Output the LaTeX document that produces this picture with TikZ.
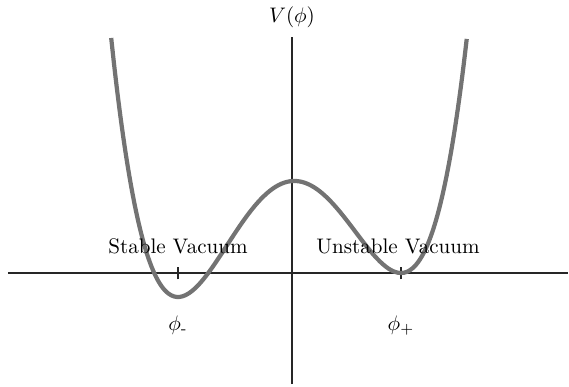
\documentclass[tikz,border=0pt]{standalone}
\usepackage{amsmath,amssymb}
\usepackage{tikz}
\usetikzlibrary{positioning}

\begin{document}
\begin{tikzpicture}[
    x=47.5pt, y=47.5pt,
    axis/.style={line width=0.6pt, black!85},
    tick/.style={line width=0.5pt, black!85},
    potential/.style={line width=2pt, black!55},
    vaclabel/.style={inner sep=0pt, anchor=base, font=\normalsize},
    fieldlabel/.style={inner sep=0pt, font=\normalsize}
]
    \useasboundingbox (-2.92,-1.13) rectangle (2.77,2.73);

    % --- Axes
    \coordinate (Xl) at (-2.84, 0);
    \coordinate (Xr) at (2.76, 0);
    \coordinate (Yb) at (0, -1.11);
    \coordinate (Yt) at (0, 2.36);
    \draw[axis] (Xl) -- (Xr);
    \draw[axis] (Yb) -- (Yt);
    \node[fieldlabel] (Vlab) at (0, 2.56) {$V(\phi)$};

    % --- Vacua on the axis
    \coordinate (Vm) at (-1.14, 0);
    \coordinate (Vp) at (1.09, 0);
    \draw[tick] ([yshift=-3pt]Vm) -- ([yshift=3pt]Vm);
    \draw[tick] ([yshift=-3pt]Vp) -- ([yshift=3pt]Vp);
    \node[fieldlabel, below=20pt of Vm] (Pm) {$\phi_{\text{-}}$};
    \node[fieldlabel, below=20pt of Vp] (Pp) {$\phi_{+}$};

    % --- Potential
    \draw[potential] plot[domain=-1.808:1.748, samples=120, smooth]
        (\x, {(\x-1.09)^2*(0.67064*\x*\x + 1.48578*\x + 0.77396)});

    \node[vaclabel] (Stab) at (-1.14, 0.2) {Stable Vacuum};
    \node[vaclabel] (Unst) at (1.06, 0.2) {Unstable Vacuum};

\end{tikzpicture}
\end{document}
